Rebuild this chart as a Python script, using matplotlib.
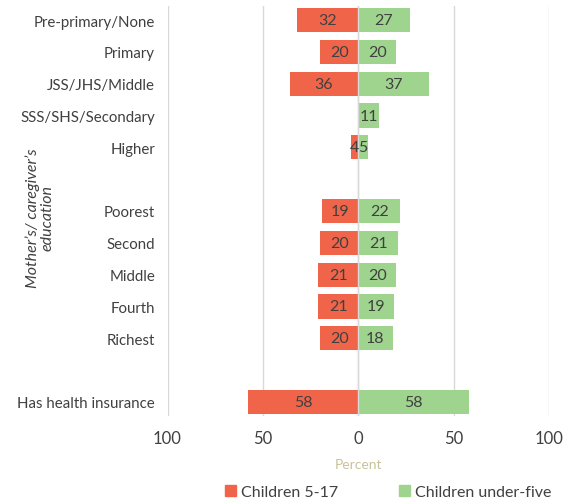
import matplotlib
matplotlib.use("Agg")
import matplotlib.pyplot as plt
import numpy as np
from matplotlib.patches import Patch

categories = ["Pre-primary/None", "Primary", "JSS/JHS/Middle", "SSS/SHS/Secondary", "Higher", "",
              "Poorest", "Second", "Middle", "Fourth", "Richest", "", "Has health insurance"]
children_5_17 = [32, 20, 36, 0, 4, None, 19, 20, 21, 21, 20, None, 58]
children_under5 = [27, 20, 37, 11, 5, None, 22, 21, 20, 19, 18, None, 58]
xticks = [-100, -50, 0, 50, 100]
xticklabels = ["100", "50", "0", "50", "100"]

RED = "#F0654A"
GREEN = "#9ED48E"
TXT = "#404040"

plt.rcParams['font.family'] = ['Lato', 'DejaVu Sans']

fig = plt.figure(figsize=(5.70, 5.02), dpi=100)
ax = fig.add_axes([167.5/570, 1-417/502, (549-167.5)/570, (417-7)/502])

y = np.arange(len(categories))
for i, (a, b) in enumerate(zip(children_5_17, children_under5)):
    if a is None:
        continue
    if a > 0:
        ax.barh(i, -a, height=0.755, color=RED, zorder=2)
        ax.text(-a/2, i, str(a), ha="center", va="center", fontsize=11.5, color=TXT, zorder=3)
    if b > 0:
        ax.barh(i, b, height=0.755, color=GREEN, zorder=2)
        ax.text(b/2, i, str(b), ha="center", va="center", fontsize=11.5, color=TXT, zorder=3)

ax.axvline(0, color="#D9D9D9", linewidth=1, zorder=2.5)
ax.set_xlim(-100, 100)
ax.set_ylim(len(categories)-1+0.44, -0.44)
ax.set_xticks(xticks)
ax.set_xticklabels(xticklabels, fontsize=12, color=TXT)
ax.set_yticks(y)
ax.set_yticklabels(categories, fontsize=10.8, color=TXT)
ax.tick_params(axis="both", length=0)
ax.tick_params(axis="y", pad=9)
ax.tick_params(axis="x", pad=10)
for s in ax.spines.values():
    s.set_visible(False)
ax.xaxis.grid(True, color="#D9D9D9", linewidth=1, zorder=0)
ax.set_axisbelow(True)

ax.set_xlabel("Percent", fontsize=10, color="#C9C39A", labelpad=9)
fig.text(40/570, 1-218/502, "Mother\u2019s/ caregiver\u2019s\neducation", rotation=90,
         ha="center", va="center", fontsize=11.5, style="italic", color=TXT, linespacing=1.0)

handles = [Patch(color=RED, label="Children 5-17"), Patch(color=GREEN, label="Children under-five")]
fig.legend(handles=handles, loc="center", bbox_to_anchor=(388/570, 1-493/502), ncol=2,
           frameon=False, fontsize=11.5, handlelength=0.7, handleheight=0.7, handletextpad=0.3,
           columnspacing=3.8, labelcolor=TXT)

fig.savefig("out.png", dpi=100)
